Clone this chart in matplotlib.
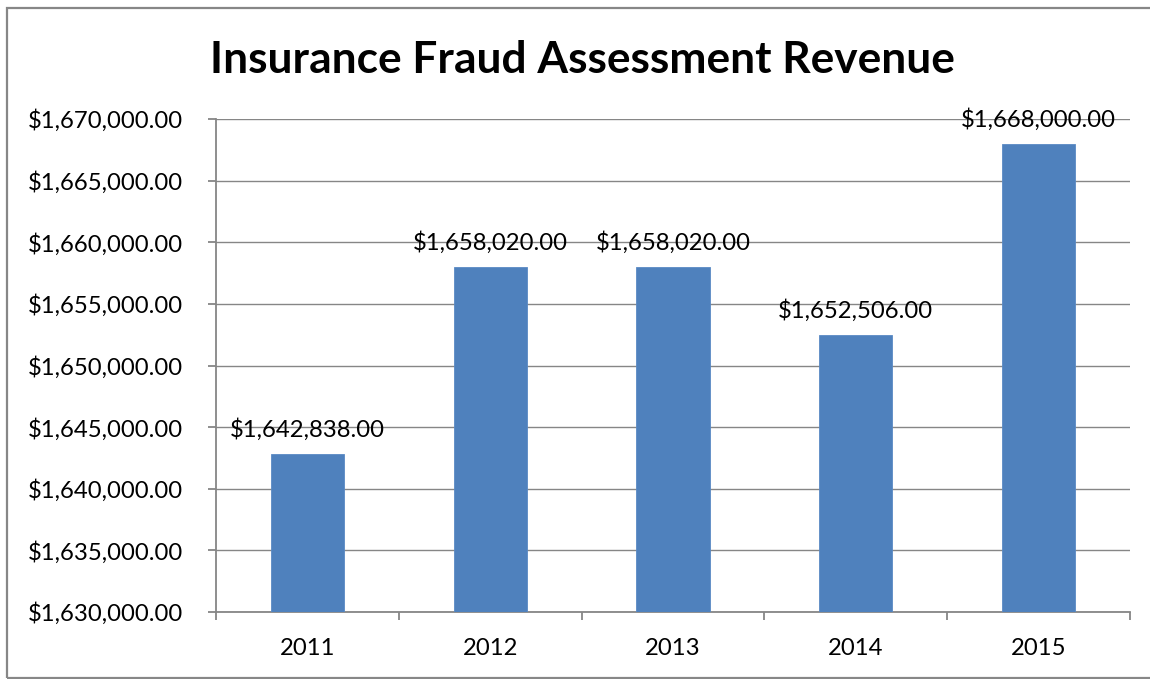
import matplotlib
matplotlib.use("Agg")
import matplotlib.pyplot as plt
from matplotlib.patches import Rectangle
from matplotlib.ticker import FuncFormatter, FixedLocator

years = ["2011", "2012", "2013", "2014", "2015"]
revenue = [1642838.00, 1658020.00, 1658020.00, 1652506.00, 1668000.00]
y_ticks = [1630000, 1635000, 1640000, 1645000, 1650000, 1655000, 1660000, 1665000, 1670000]

plt.rcParams['font.family'] = ['Lato', 'DejaVu Sans']

W, H = 1150, 679
fig = plt.figure(figsize=(W / 100, H / 100), dpi=100)
fig.patch.set_facecolor('white')

# outer chart border
fig.patches.append(Rectangle((6.5 / W, 1.0 / H), 1.2, 1 - 8.5 / H, transform=fig.transFigure,
                             fill=False, edgecolor='#878787', linewidth=1.6, figure=fig))

ax = fig.add_axes([216 / W, 1 - 612 / H, (1130 - 216) / W, (612 - 119) / H])

def money(v, pos=None):
    return "${:,.2f}".format(v)

x = list(range(len(years)))
ax.bar(x, revenue, width=0.4, color='#4F81BD', edgecolor='#5A8AC4', linewidth=0.6, zorder=3)

ax.set_xlim(-0.5, len(years) - 0.5)
ax.set_ylim(y_ticks[0], y_ticks[-1])
ax.yaxis.set_major_locator(FixedLocator(y_ticks))
ax.yaxis.set_major_formatter(FuncFormatter(money))
ax.grid(axis='y', color='#868686', linewidth=1.0, zorder=0)
ax.set_axisbelow(True)

# category boundaries as major ticks, labels at centers as minor ticks
ax.xaxis.set_major_locator(FixedLocator([i - 0.5 for i in range(len(years) + 1)]))
ax.xaxis.set_major_formatter(FuncFormatter(lambda v, p: ""))
ax.xaxis.set_minor_locator(FixedLocator(x))
ax.set_xticks(x, years, minor=True)

for s in ['top', 'right']:
    ax.spines[s].set_visible(False)
for s in ['left', 'bottom']:
    ax.spines[s].set_color('#868686')
    ax.spines[s].set_linewidth(1.3)

ax.tick_params(axis='y', which='major', direction='out', length=6, width=1.3, color='#868686',
               pad=18, labelsize=17.2, labelcolor='black')
ax.tick_params(axis='x', which='major', direction='out', length=6, width=1.3, color='#868686')
ax.tick_params(axis='x', which='minor', length=0, pad=19, labelsize=17.2, labelcolor='black')

for xi, v in zip(x, revenue):
    ax.annotate(money(v), (xi, v), xytext=(0, 9), textcoords='offset points',
                ha='center', va='bottom', fontsize=17.2, color='black', zorder=5)

fig.text(582 / W, 1 - 73 / H, "Insurance Fraud Assessment Revenue", ha='center', va='baseline',
         fontsize=31.9, fontweight='bold', color='black')

fig.savefig("out.png", dpi=100, facecolor='white')
